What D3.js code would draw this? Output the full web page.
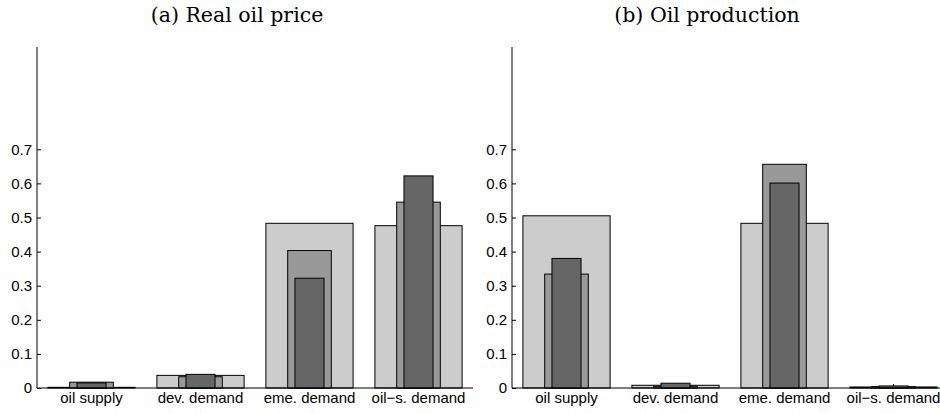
<!DOCTYPE html>
<html>
<head>
<meta charset="utf-8">
<script src="https://cdn.jsdelivr.net/npm/d3@7"></script>
<style>
  html, body { margin: 0; padding: 0; background: #fff; }
  svg { display: block; }
</style>
</head>
<body>
<svg id="chart" width="940" height="414"></svg>
<script>
// Shock categories and tick labels
const categories = ["oil supply", "dev. demand", "eme. demand", "oil\u2212s. demand"];
const yTicks = [0, 0.1, 0.2, 0.3, 0.4, 0.5, 0.6, 0.7];
const panelTitles = ["(a) Real oil price", "(b) Oil production"];

// Variance shares per shock: wide, middle and narrow bars
const priceWide   = [0.002, 0.037, 0.483, 0.476];
const priceMid    = [0.017, 0.033, 0.403, 0.545];
const priceNarrow = [0.015, 0.040, 0.322, 0.622];

const prodWide    = [0.505, 0.008, 0.483, 0.003];
const prodMid     = [0.334, 0.005, 0.656, 0.004];
const prodNarrow  = [0.380, 0.014, 0.601, 0.006];

const panels = [
  { title: panelTitles[0], wide: priceWide, mid: priceMid, narrow: priceNarrow, x0: 37, titleX: 237 },
  { title: panelTitles[1], wide: prodWide,  mid: prodMid,  narrow: prodNarrow,  x0: 512, titleX: 707 }
];

const svg = d3.select("#chart");
const plotW = 436, yTop = 47, yBottom = 388;

const y = d3.scaleLinear().domain([0, 1]).range([yBottom, yTop]);

const layers = [
  { key: "wide",   width: 0.8,     fill: "#cccccc" },
  { key: "mid",    width: 0.4,     fill: "#999999" },
  { key: "narrow", width: 0.8 / 3, fill: "#666666" }
];

panels.forEach(p => {
  const g = svg.append("g");
  // x positions 1..4 with half a unit of padding on each side
  const x = d3.scaleLinear().domain([0.5, 4.5]).range([p.x0, p.x0 + plotW]);

  // category ticks (beneath the bars)
  g.selectAll("line.xtick").data(categories).join("line")
    .attr("x1", (d, i) => x(i + 1)).attr("x2", (d, i) => x(i + 1))
    .attr("y1", yBottom).attr("y2", yBottom - 4)
    .attr("stroke", "#000").attr("stroke-width", 1);

  layers.forEach(L => {
    g.selectAll("rect." + L.key).data(p[L.key]).join("rect")
      .attr("class", L.key)
      .attr("x", (d, i) => x(i + 1 - L.width / 2))
      .attr("width", (d, i) => x(i + 1 + L.width / 2) - x(i + 1 - L.width / 2))
      .attr("y", d => y(d))
      .attr("height", d => y(0) - y(d))
      .attr("fill", L.fill)
      .attr("stroke", "#000")
      .attr("stroke-width", 1);
  });

  // y axis with inward ticks
  const yAxis = d3.axisRight(y).tickValues(yTicks).tickSize(4)
    .tickFormat(d => d === 0 ? "0" : d3.format(".1f")(d));
  const ya = g.append("g").attr("transform", `translate(${p.x0},0)`).call(yAxis);
  ya.select(".domain").attr("d", `M0,${yTop}V${yBottom}`).attr("stroke", "#000");
  ya.selectAll(".tick line").attr("stroke", "#000");
  ya.selectAll(".tick text")
    .attr("x", -5).attr("text-anchor", "end")
    .attr("font-family", "'Liberation Sans', Arial, sans-serif")
    .attr("font-size", 15).attr("fill", "#000");

  // baseline
  g.append("line")
    .attr("x1", p.x0).attr("x2", p.x0 + plotW)
    .attr("y1", yBottom).attr("y2", yBottom)
    .attr("stroke", "#000").attr("stroke-width", 1);

  // category labels
  g.selectAll("text.cat").data(categories).join("text")
    .attr("class", "cat")
    .attr("x", (d, i) => x(i + 1)).attr("y", 403)
    .attr("text-anchor", "middle")
    .attr("font-family", "'Liberation Sans', Arial, sans-serif")
    .attr("font-size", 15).attr("fill", "#000")
    .text(d => d);

  // panel title
  g.append("text")
    .attr("x", p.titleX).attr("y", 22)
    .attr("text-anchor", "middle")
    .attr("font-family", "'DejaVu Serif', serif")
    .attr("font-size", 20.5).attr("fill", "#000")
    .text(p.title);
});
</script>
</body>
</html>
